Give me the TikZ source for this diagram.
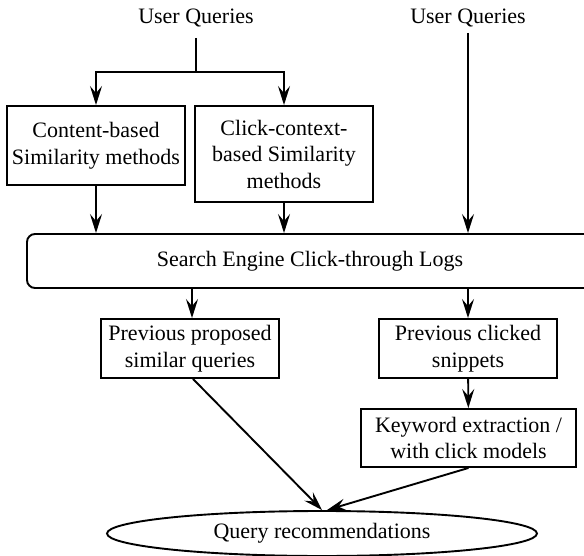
\documentclass[tikz,border=0pt]{standalone}
\usepackage{fontspec}
\setmainfont{Liberation Serif}
\usetikzlibrary{arrows.meta,shapes.geometric}
\begin{document}
\begin{tikzpicture}[x=1pt,y=-1pt,
  every node/.style={font=\fontsize{22}{26.5}\selectfont, align=center, inner sep=0pt},
  box/.style={draw, line width=1.9pt, rectangle},
  logbox/.style={draw, line width=1.9pt, rectangle, rounded corners=8pt},
  oval/.style={draw, line width=1.9pt, ellipse},
  link/.style={line width=1.9pt},
  arr/.style={line width=1.9pt, -{Stealth[length=19pt,width=12pt,inset=7pt]}}]
\useasboundingbox (0,0) rectangle (584,556);

% inputs
\node (uq1) at (196,18) {User Queries};
\node (uq2) at (468,18) {User Queries};

% similarity methods
\node[box, minimum width=178, minimum height=79] (content) at (96,145.5)
  {Content-based\\Similarity methods};
\node[box, minimum width=178, minimum height=96] (click) at (284,154)
  {Click-context-\\based Similarity\\methods};

% click-through logs (runs off the right edge)
\node[logbox, minimum width=566, minimum height=54] (logs) at (310,261)
  {Search Engine Click-through Logs};

% outputs of the logs
\node[box, minimum width=178, minimum height=59] (prop) at (190,348.5)
  {Previous proposed\\similar queries};
\node[box, minimum width=178, minimum height=59] (clicked) at (468,348.5)
  {Previous clicked\\snippets};
\node[box, minimum width=215, minimum height=58] (kw) at (468.5,438)
  {Keyword extraction /\\with click models};

\node[oval, minimum width=430, minimum height=45] (rec) at (322,533.5)
  {Query recommendations};

% connectors
\coordinate (split) at (196,72);
\draw[link] (196,38) -- (split);
\draw[arr] (split) -| (content.north);
\draw[arr] (split) -| (click.north);
\draw[arr] (468,33) -- (logs.north -| uq2);
\draw[arr] (content.south) -- (logs.north -| content);
\draw[arr] (click.south) -- (logs.north -| click);
\draw[arr] ([xshift=2pt]logs.south -| prop) -- ([xshift=2pt]prop.north);
\draw[arr] (logs.south -| clicked) -- (clicked.north);
\draw[arr] (clicked) -- (kw);
\draw[arr] ([xshift=3pt]prop.south) -- ([xshift=0pt]rec.north);
\draw[arr] (kw.south) -- ([xshift=5pt]rec.north);
\end{tikzpicture}
\end{document}
